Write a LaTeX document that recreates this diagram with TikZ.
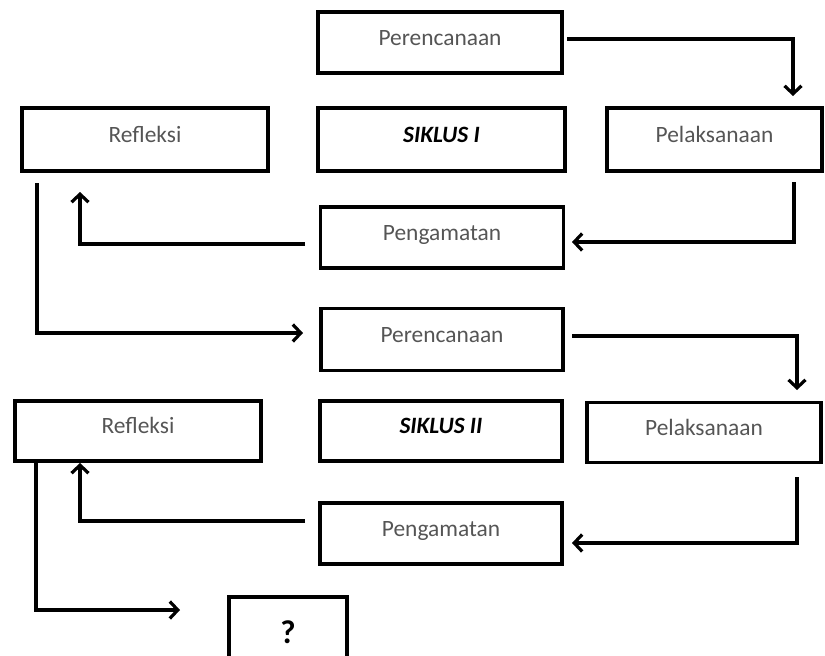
\documentclass[tikz,border=0pt]{standalone}
\usepackage{fontspec}
\setmainfont{Carlito}
\usetikzlibrary{arrows.meta}
\definecolor{txtgray}{RGB}{85,85,85}
\tikzset{
  box/.style={draw=black, line width=3.6pt, rectangle, inner sep=0pt, outer sep=0pt,
    text=txtgray, font=\fontsize{23.4}{28}\selectfont, text height=16pt, text depth=11pt},
  cyc/.style={box, text=black, font=\fontsize{23.4}{28}\selectfont\bfseries\itshape},
  arr/.style={line width=3.2pt, -{Straight Barb[length=8pt,width=17pt,line width=3.2pt]}},
  plain/.style={line width=3.2pt}
}
\begin{document}
\begin{tikzpicture}[x=1pt,y=-1pt]
\useasboundingbox (0,0) rectangle (825,656);
% cycle I
\node[box, minimum width=244pt, minimum height=61pt] (per1) at (440,42.5) {Perencanaan};
\node[cyc, minimum width=247pt, minimum height=63pt] (sik1) at (441.5,139.5) {SIKLUS I};
\node[box, minimum width=215pt, minimum height=63pt] (pel1) at (714.5,139.5) {Pelaksanaan};
\node[box, minimum width=246pt, minimum height=63pt] (ref1) at (145,139.5) {Refleksi};
\node[box, minimum width=243pt, minimum height=61pt] (pen1) at (442,237.5) {Pengamatan};
% cycle II
\node[box, minimum width=242pt, minimum height=62pt] (per2) at (442,339.5) {Perencanaan};
\node[cyc, minimum width=242pt, minimum height=60pt] (sik2) at (441,431) {SIKLUS II};
\node[box, minimum width=234pt, minimum height=60pt] (pel2) at (704,432.5) {Pelaksanaan};
\node[box, minimum width=246pt, minimum height=60pt] (ref2) at (138,431) {Refleksi};
\node[box, minimum width=242pt, minimum height=61pt] (pen2) at (441,533.5) {Pengamatan};
\node[box, text=black, font=\fontsize{33}{38}\selectfont\bfseries, text height=22pt, text depth=13pt,
  minimum width=118pt, minimum height=83pt] (q) at (288,638.5) {?};
% bend and end points
\coordinate (a1s) at (567,39);   \coordinate (a1b) at (793,39);  \coordinate (a1e) at (793,96);
\coordinate (a2s) at (794,182);  \coordinate (a2b) at (794,242); \coordinate (a2e) at (572,242);
\coordinate (a3s) at (305,244);  \coordinate (a3b) at (80,244);  \coordinate (a3e) at (80,192);
\coordinate (a4s) at (37,183);   \coordinate (a4b) at (37,333);  \coordinate (a4e) at (303,333);
\coordinate (a5s) at (572,336);  \coordinate (a5b) at (797,336); \coordinate (a5e) at (797,390);
\coordinate (a6s) at (797,477);  \coordinate (a6b) at (797,543); \coordinate (a6e) at (572,543);
\coordinate (a7s) at (305,521);  \coordinate (a7b) at (80,521);  \coordinate (a7e) at (80,463);
\coordinate (a8s) at (ref2.south -| 36,0); \coordinate (a8b) at (36,610); \coordinate (a8e) at (180,610);
% connectors
\draw[arr] (a1s) -- (a1b) -- (a1e);
\draw[arr] (a2s) -- (a2b) -- (a2e);
\draw[arr] (a3s) -- (a3b) -- (a3e);
\draw[arr] (a4s) -- (a4b) -- (a4e);
\draw[arr] (a5s) -- (a5b) -- (a5e);
\draw[arr] (a6s) -- (a6b) -- (a6e);
\draw[arr] (a7s) -- (a7b) -- (a7e);
\draw[arr] (a8s) -- (a8b) -- (a8e);
\end{tikzpicture}
\end{document}
